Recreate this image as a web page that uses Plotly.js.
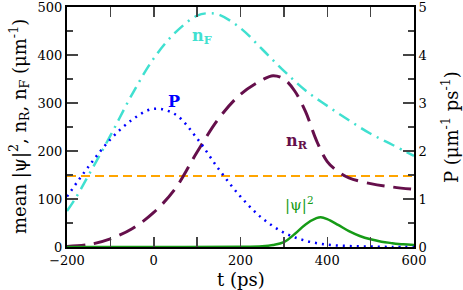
<!DOCTYPE html>
<html><head><meta charset="utf-8">
<script src="https://cdn.plot.ly/plotly-3.0.1.min.js"></script>
<style>html,body{margin:0;padding:0;background:#fff}#plot{width:463px;height:290px}</style>
</head><body><div id="plot"></div>
<script>
// n_F (left axis)
const tF = [-200,-180,-150,-100,-50,0,50,100,125,150,200,250,300,350,400,450,500,550,600];
const nF = [75,102,150,232,318,393,447,482,487,484,456,412,367,326,294,264,236,213,190];
// n_R (left axis)
const tR = [-200,-150,-100,-50,0,50,100,150,200,250,275,300,325,350,375,400,425,450,500,550,600];
const nR = [1,5,17,38,72,122,198,268,318,348,357,350,325,282,222,178,157,144,132,125,120];
// P (right axis)
const tP = [-200,-150,-100,-50,0,50,100,150,200,250,300,350,400,450,500,550,600];
const P  = [1.05,1.68,2.24,2.65,2.88,2.76,2.26,1.62,1.05,0.6,0.3,0.13,0.05,0.02,0.01,0.0,0.0];
// |psi|^2 (left axis)
const tPsi = [-200,0,200,250,275,300,325,350,375,385,400,425,450,475,500,525,550,575,600];
const psi  = [0,0,0.3,1.5,4,10,27,47,60,62,58,46,33,23,16,11,8,5.5,4];
// threshold (left axis)
const tTh = [-200,600];
const th = [148,148];

const cF='#40E0D0', cR='#650F4B', cP='#0000FF', cPsi='#169B16', cTh='#FFA500';

const traces = [
 {x:tTh,y:th,mode:'lines',line:{color:cTh,width:2,dash:'9px,5px'},hoverinfo:'skip'},
 {x:tF,y:nF,mode:'lines',line:{color:cF,width:2.5,dash:'12px,6px,2px,6px',shape:'spline'}},
 {x:tR,y:nR,mode:'lines',line:{color:cR,width:3,dash:'18px,9px',shape:'spline'}},
 {x:tP,y:P,yaxis:'y2',mode:'lines',line:{color:cP,width:2.5,dash:'2px,5px',shape:'spline'}},
 {x:tPsi,y:psi,mode:'lines',line:{color:cPsi,width:2.5,shape:'spline'}}
];

const FAM = 'DejaVu Serif';
const layout = {
 width:463,height:290,showlegend:false,
 margin:{l:67,r:49,t:7,b:43},
 paper_bgcolor:'#fff',plot_bgcolor:'#fff',
 font:{family:FAM,size:13,color:'#000'},
 xaxis:{range:[-200,600],tick0:-200,dtick:200,ticks:'inside',ticklen:10,tickwidth:1.5,
   minor:{dtick:100,ticks:'inside',ticklen:10,tickwidth:1.5},
   showline:true,linewidth:2,linecolor:'#000',mirror:'ticks',showgrid:false,zeroline:false,
   ticklabeloverflow:'allow',
   tickfont:{family:FAM,size:13}},
 yaxis:{range:[0,500],dtick:100,ticks:'inside',ticklen:11,tickwidth:1.5,
   minor:{dtick:50,ticks:'inside',ticklen:6,tickwidth:1.5},
   showline:true,linewidth:2,linecolor:'#000',showgrid:false,zeroline:false,
   ticklabeloverflow:'allow',
   tickfont:{family:FAM,size:13}},
 yaxis2:{range:[0,5],dtick:1,overlaying:'y',side:'right',ticks:'inside',ticklen:11,tickwidth:1.5,
   minor:{dtick:0.5,ticks:'inside',ticklen:6,tickwidth:1.5},
   showline:true,linewidth:2,linecolor:'#000',showgrid:false,zeroline:false,
   ticklabeloverflow:'allow',
   tickfont:{family:FAM,size:13}},
 annotations:[
  {xref:'paper',yref:'paper',x:0.5,y:0,yshift:-32,xanchor:'center',yanchor:'middle',text:'t (ps)',showarrow:false,font:{family:FAM,size:18}},
  {xref:'paper',yref:'paper',x:0,xshift:-48,y:0.5,textangle:-90,xanchor:'center',yanchor:'middle',
   text:'mean |ψ|<sup>2</sup>, n<sub>R</sub>, n<sub>F</sub> (μm<sup>-1</sup>)',showarrow:false,font:{family:FAM,size:18}},
  {xref:'paper',yref:'paper',x:1,xshift:36,y:0.5,textangle:-90,xanchor:'center',yanchor:'middle',
   text:'P (μm<sup>-1</sup> ps<sup>-1</sup>)',showarrow:false,font:{family:FAM,size:18}},
  {x:111,y:439,text:'<b>n<sub>F</sub></b>',showarrow:false,font:{family:FAM,size:16,color:cF}},
  {x:47,y:304,text:'<b>P</b>',showarrow:false,font:{family:FAM,size:16,color:cP}},
  {x:330,y:220,text:'<b>n<sub>R</sub></b>',showarrow:false,font:{family:FAM,size:16,color:cR}},
  {x:335,y:89,text:'|ψ|<sup>2</sup>',showarrow:false,font:{family:FAM,size:15,color:cPsi}}
 ]
};
Plotly.newPlot('plot',traces,layout,{staticPlot:true,displayModeBar:false});
</script></body></html>
